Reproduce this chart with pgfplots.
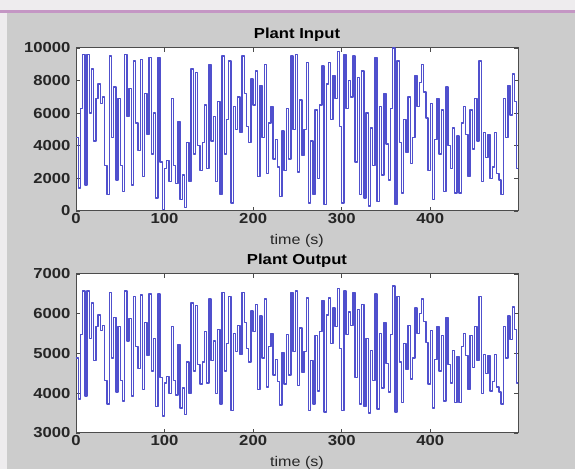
\documentclass[border=0pt]{standalone}
\usepackage{fontspec}
\setmainfont[FakeStretch=1.15]{Liberation Sans}
\usepackage{pgfplots}
\usepackage{pgfplotstable}
\pgfplotsset{compat=1.18}

\definecolor{figgray}{RGB}{204,204,204}
\definecolor{topband}{RGB}{238,236,238}
\definecolor{pinkline}{RGB}{196,150,196}
\definecolor{sigblue}{RGB}{80,80,205}

% t [s], plant input, plant output (step signal, 2.5 s hold)
\pgfplotstableread{
t in out
0 4500 4890
2.5 1400 3860
5 6300 5480
7.5 9600 6570
10 1600 3930
12.5 9600 6570
15 6000 5380
17.5 8700 6270
20 4300 4820
22.5 6900 5680
25 7800 5970
27.5 6600 5580
30 7000 5710
32.5 2800 4320
35 1000 3730
37.5 9500 6540
40 4500 4890
42.5 7600 5910
45 1900 4030
47.5 6900 5680
50 2800 4320
52.5 1200 3800
55 9600 6570
57.5 5800 5310
60 7500 5880
62.5 1600 3930
65 9200 6440
67.5 5400 5180
70 3700 4620
72.5 9300 6470
75 2100 4090
77.5 7200 5780
80 4700 4950
82.5 9400 6500
85 3500 4560
87.5 6000 5380
90 800 3660
92.5 9400 6500
95 3000 4390
97.5 100 3430
100 2600 4260
102.5 3100 4420
105 1800 3990
107.5 6900 5680
110 2800 4320
112.5 1700 3960
115 5500 5220
117.5 700 3630
120 2200 4130
122.5 200 3470
125 4200 4790
127.5 1800 3990
130 8700 6270
132.5 3500 4560
135 8500 6210
137.5 4000 4720
140 2500 4230
142.5 4200 4790
145 6500 5550
147.5 2600 4260
150 9000 6370
152.5 4300 4820
155 5800 5310
157.5 1800 3990
160 6700 5610
162.5 1000 3730
165 9500 6540
167.5 3500 4560
170 5600 5250
172.5 9200 6440
175 500 3570
177.5 6400 5510
180 5000 5050
182.5 7000 5710
185 4800 4980
187.5 9500 6540
190 7200 5780
192.5 5200 5120
195 4200 4790
197.5 8100 6070
200 6500 5550
202.5 8600 6240
205 2100 4090
207.5 7700 5940
210 4500 4890
212.5 9000 6370
215 2300 4160
217.5 5400 5180
220 6400 5510
222.5 3200 4460
225 4400 4850
227.5 2700 4290
230 900 3700
232.5 4900 5020
235 2500 4230
237.5 6300 5480
240 3200 4460
242.5 9500 6540
245 5000 5050
247.5 9600 6570
250 2400 4190
252.5 6800 5640
255 3400 4520
257.5 5000 5050
260 9100 6400
262.5 500 3570
265 4300 4820
267.5 1000 3730
270 6200 5450
272.5 2000 4060
275 6500 5550
277.5 8900 6340
280 400 3530
282.5 7800 5970
285 9100 6400
287.5 5600 5250
290 8300 6140
292.5 6900 5680
295 9800 6630
297.5 5200 5120
300 500 3570
302.5 9600 6570
305 6300 5480
307.5 8000 6040
310 7000 5710
312.5 9500 6540
315 3000 4390
317.5 8200 6110
320 1000 3730
322.5 8600 6240
325 800 3660
327.5 6000 5380
330 300 3500
332.5 5100 5080
335 2800 4320
337.5 9400 6500
340 600 3600
342.5 6400 5510
345 2200 4130
347.5 7200 5780
350 4100 4750
352.5 1900 4030
355 6300 5480
357.5 10000 6700
360 400 3530
362.5 9200 6440
365 4200 4790
367.5 1100 3760
370 5600 5250
372.5 3600 4590
375 7000 5710
377.5 2900 4360
380 4500 4890
382.5 8300 6140
385 6400 5510
387.5 7900 6010
390 9000 6370
392.5 7300 5810
395 5700 5280
397.5 2500 4230
400 6600 5580
402.5 700 3630
405 4400 4850
407.5 6900 5680
410 3500 4560
412.5 6200 5450
415 1200 3800
417.5 7600 5910
420 4000 4720
422.5 2600 4260
425 5100 5080
427.5 1100 3760
430 4600 4920
432.5 1100 3760
435 5400 5180
437.5 6400 5510
440 4700 4950
442.5 2100 4090
445 6200 5450
447.5 3800 4650
450 6900 5680
452.5 4300 4820
455 9200 6440
457.5 1800 3990
460 4800 4980
462.5 3300 4490
465 4700 4950
467.5 2000 4060
470 2700 4290
472.5 4800 4980
475 2300 4160
477.5 1900 4030
480 1000 3730
482.5 6900 5680
485 4500 4890
487.5 7700 5940
490 5900 5350
492.5 8400 6170
495 6700 5610
497.5 2600 4260
500 2600 4260
}\plantdata

\pgfplotsset{
  matlab/.style={
    scale only axis,
    width=442pt,
    xmin=0, xmax=499,
    xtick={0,100,200,300,400},
    tick align=inside,
    tick pos=both,
    major tick length=4pt,
    axis background/.style={fill=white},
    axis line style={draw=black!70, line width=1pt},
    tick style={draw=black!70, line width=0.7pt},
    tick label style={font=\fontsize{14.5}{16}\selectfont\bfseries, text=black!85},
    xticklabel style={yshift=1pt},
    yticklabel style={xshift=-2pt},
    /pgf/number format/assume math mode=true,
    /pgf/number format/1000 sep={},
    scaled y ticks=false,
    title style={font=\fontsize{14.5}{16}\selectfont\bfseries, text=black, yshift=-3pt},
    xlabel style={font=\fontsize{14}{16}\selectfont, text=black!85, yshift=-4pt},
  }
}

\begin{document}
\begin{tikzpicture}
\fill[figgray] (0pt,0pt) rectangle (575pt,469pt);
\fill[topband] (0pt,459pt) rectangle (575pt,469pt);
\fill[topband] (0pt,0pt) rectangle (7pt,459pt);
\fill[pinkline] (0pt,456pt) rectangle (575pt,459pt);

\begin{axis}[
    matlab,
    at={(76pt,258pt)}, anchor=south west,
    height=163pt,
    ymin=0, ymax=10000,
    ytick={0,2000,4000,6000,8000,10000},
    title={Plant Input},
    xlabel={time (s)},
]
\addplot[const plot, draw=sigblue, line width=1.4pt, line join=round, line cap=round] table[x=t, y=in] {\plantdata};
\end{axis}

\begin{axis}[
    matlab,
    at={(76pt,36pt)}, anchor=south west,
    height=159pt,
    ymin=3000, ymax=7000,
    ytick={3000,4000,5000,6000,7000},
    title={Plant Output},
    xlabel={time (s)},
]
\addplot[const plot, draw=sigblue, line width=1.4pt, line join=round, line cap=round] table[x=t, y=out] {\plantdata};
\end{axis}
\end{tikzpicture}
\end{document}
